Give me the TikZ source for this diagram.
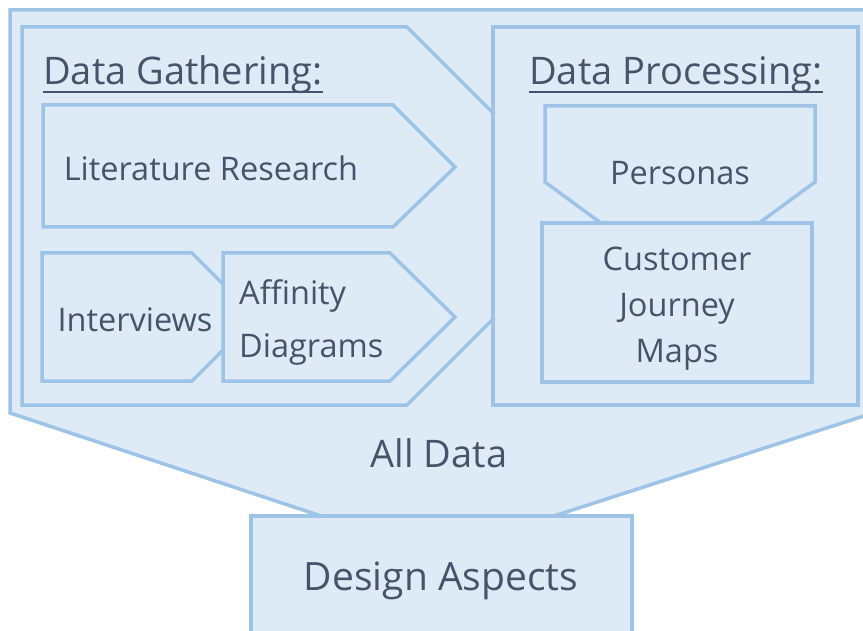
\documentclass[tikz,border=0pt]{standalone}
\usepackage{fontspec}
\setmainfont{Open Sans}
\usepackage{xcolor}
\usepackage{tikz}
\definecolor{boxfill}{HTML}{DEEBF7}
\definecolor{boxline}{HTML}{9DC3E6}
\definecolor{labeltext}{HTML}{44546A}
\tikzset{shape box/.style={draw=boxline,fill=boxfill,line width=3.5pt,line join=miter},
  box label/.style={text=labeltext,font=\fontsize{32.5}{46}\selectfont,inner sep=0pt},
  big label/.style={box label,font=\fontsize{38}{46}\selectfont,anchor=base},
  title label/.style={box label,font=\fontsize{38}{46}\selectfont,anchor=base west},
  under line/.style={draw=labeltext,line width=2.5pt}}

\begin{document}
\begin{tikzpicture}[x=1pt,y=-1pt]
  \clip (0,0) rectangle (863,631);
  \fill[white] (0,0) rectangle (863,631);
  % All Data
  \draw[shape box] (10,10) -- (870,10) -- (870,414) -- (436,554) -- (10,413) -- cycle;
  % Data Gathering and Data Processing
  \draw[shape box] (22,27) -- (407,27) -- (596,216) -- (407,405) -- (22,405) -- cycle;
  \draw[shape box] (493,27) rectangle (858,405);
  \node[title label] (gather) at (43,85) {Data Gathering:};
  \node[title label] (process) at (529,85) {Data Processing:};
  \draw[under line] ([yshift=-7pt]gather.base west) -- ([yshift=-7pt]gather.base east);
  \draw[under line] ([yshift=-7pt]process.base west) -- ([yshift=-7pt]process.base east);
  % gathering steps
  \draw[shape box] (43,105) -- (393,105) -- (455,167) -- (393,227) -- (43,227) -- cycle;
  \draw[shape box] (42,253) -- (192,253) -- (256,317) -- (192,381) -- (42,381) -- cycle;
  \draw[shape box] (223,253) -- (390,253) -- (455,317) -- (390,381) -- (223,381) -- cycle;
  \node[box label,anchor=base] (lit) at (211,181) {Literature Research};
  \node[box label,anchor=base] (interv) at (135,332) {Interviews};
  \node[box label,anchor=west,align=left,font=\fontsize{32.5}{53}\selectfont] (affin) at (239,322) {Affinity\\Diagrams};
  % processing steps
  \draw[shape box] (545,106) -- (815,106) -- (815,182) -- (680,281) -- (545,182) -- cycle;
  \draw[shape box] (542,223) rectangle (812,382);
  \node[box label,anchor=base] (pers) at (680,185) {Personas};
  \node[box label,align=center] (journey) at (677,309) {Customer\\Journey\\Maps};
  % result
  \node[big label] (all) at (439,467) {All Data};
  \draw[shape box] (251,516) rectangle (632,640);
  \node[big label,font=\fontsize{39}{46}\selectfont] (design) at (441,590) {Design Aspects};
\end{tikzpicture}
\end{document}
